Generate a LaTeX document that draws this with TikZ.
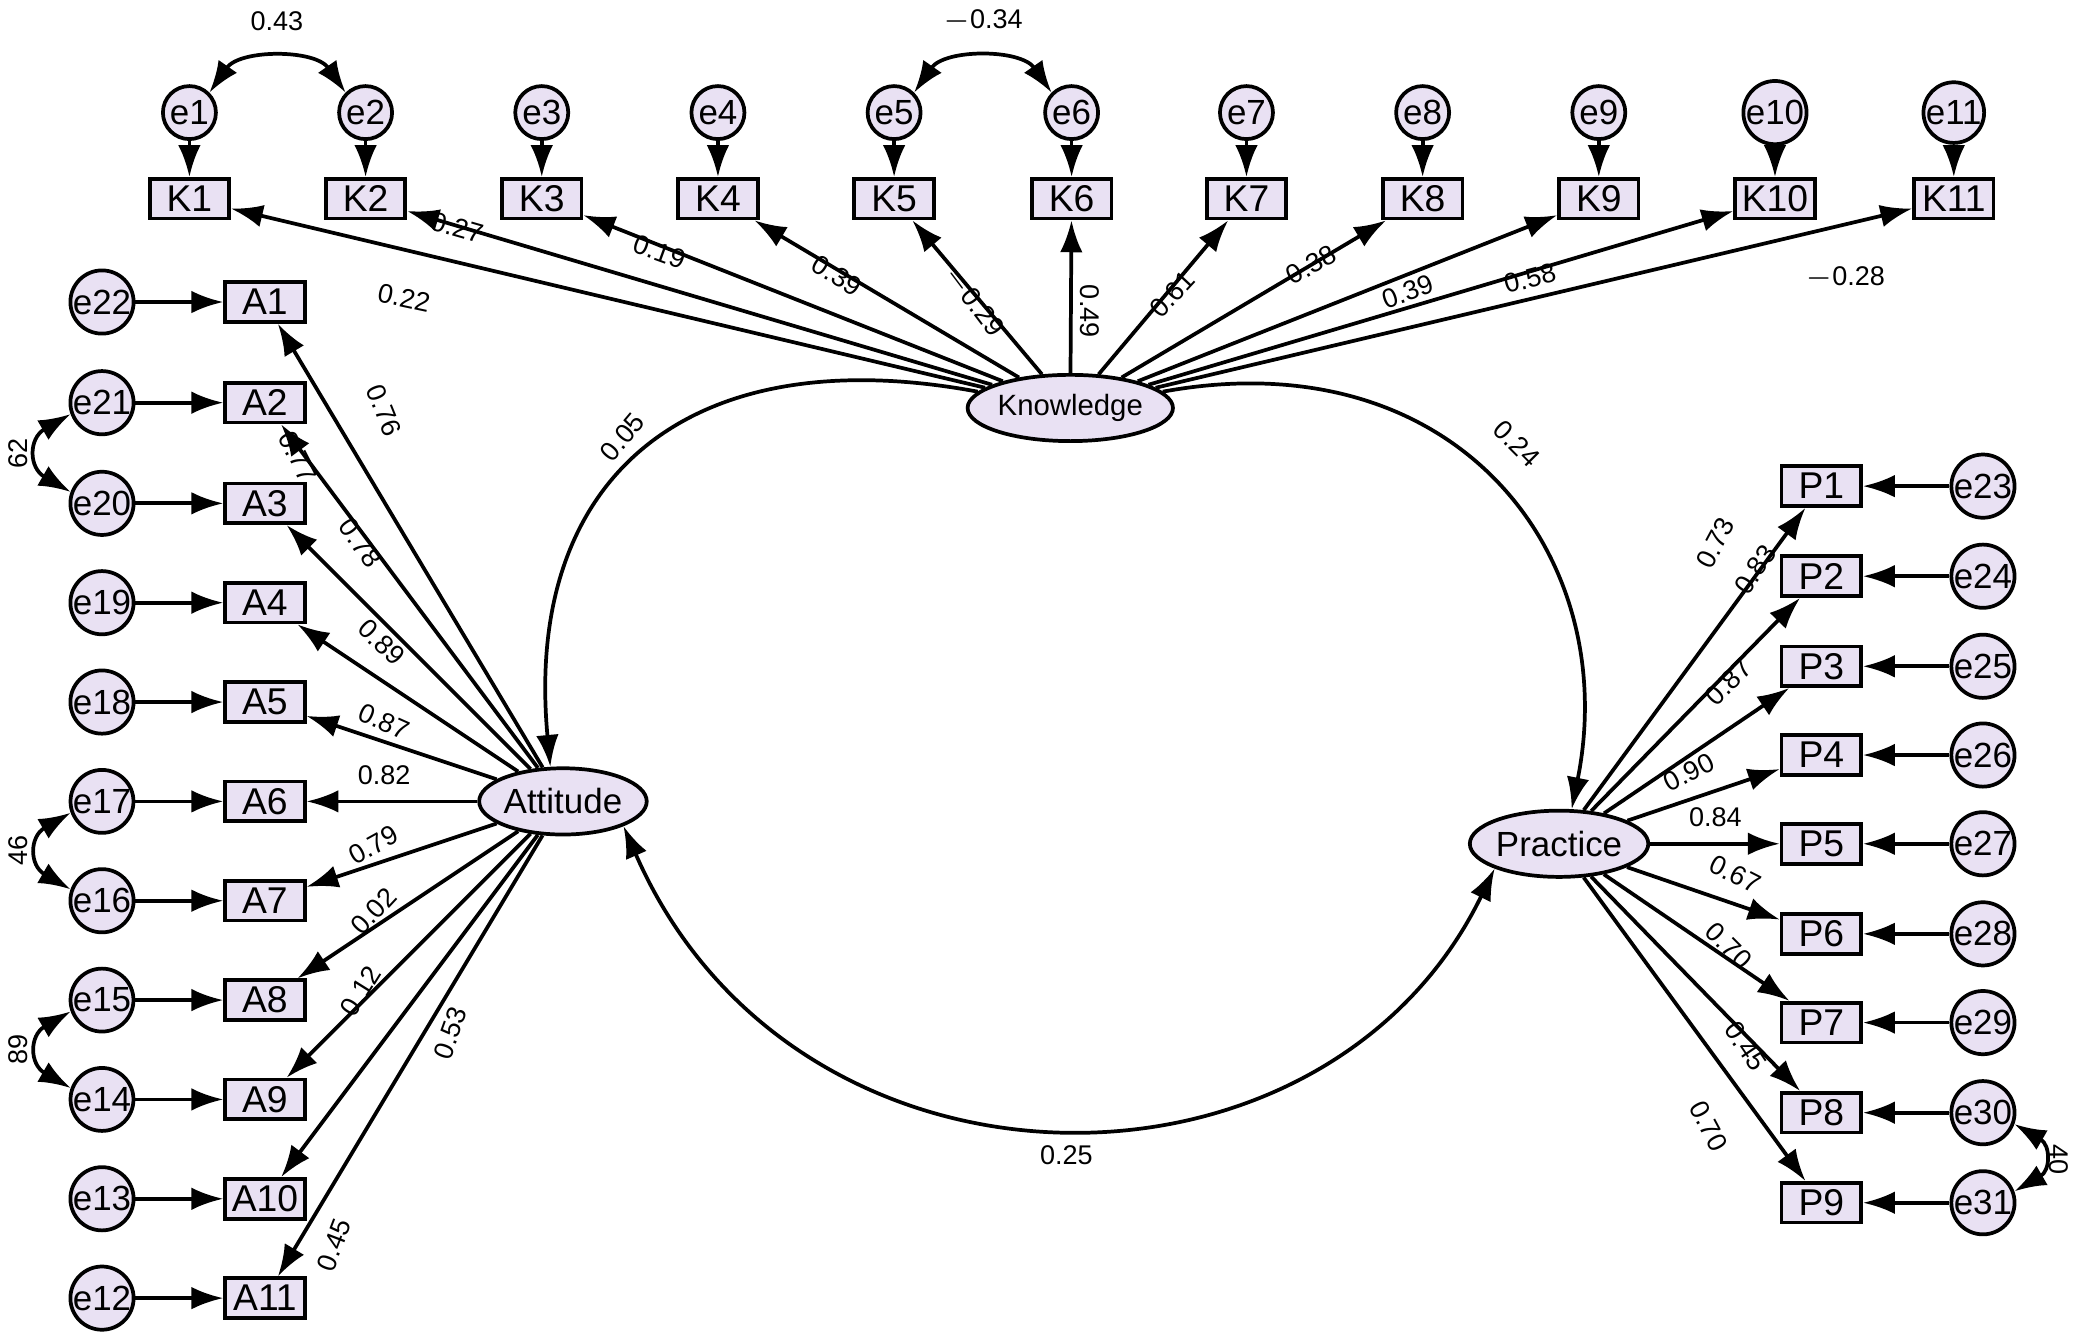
\documentclass[tikz,border=0pt]{standalone}
\usepackage{fontspec}
\setmainfont{Liberation Sans}
\usetikzlibrary{arrows.meta,shapes.geometric}
\definecolor{fillc}{HTML}{E9E1F3}
\begin{document}
\begin{tikzpicture}[x=0.01cm,y=-0.01cm,
  ob/.style={draw,thick,fill=fillc,minimum width=0.6cm,minimum height=0.3cm,inner sep=1pt,font=\fontsize{8}{9}\selectfont},
  er/.style={draw,thick,circle,fill=fillc,minimum size=0.4cm,inner sep=0pt,font=\fontsize{7.5}{9}\selectfont},
  lat/.style={draw,thick,ellipse,fill=fillc,minimum width=1.2cm,minimum height=0.5cm,inner sep=0pt,font=\fontsize{7.5}{9}\selectfont},
  ar/.style={thick,-{Latex[length=0.24cm,width=0.17cm]}},
  dar/.style={thick,{Latex[length=0.24cm,width=0.17cm]}-{Latex[length=0.24cm,width=0.17cm]}},
  lb/.style={font=\fontsize{5.8}{7}\selectfont,inner sep=1pt}]
\useasboundingbox (0,0) rectangle (1568,1012);
\node[lat,minimum width=1.15cm] (Kn) at (808,308) {\fontsize{6.3}{7}\selectfont Knowledge};
\node[lat] (At) at (425,605) {Attitude};
\node[lat] (Pr) at (1177,637) {Practice};
% K
\foreach \i/\x in {1/143,2/276,3/409,4/542,5/675,6/809,7/941,8/1074,9/1207,10/1340,11/1475}{
  \node[ob] (K\i) at (\x,150) {K\i};
  \node[er] (e\i) at (\x,85) {e\i};
  \draw[ar] (e\i) -- (K\i);
  \draw[ar] (Kn) -- (K\i);
}
\foreach \v/\x/\y/\r [count=\n] in {0.22/305/225/-12,0.27/345/172/-16,0.19/498/190/-20,0.39/632/208/-32,{$-$0.29}/735/228/-53,0.49/823/235/-90,0.61/885/222/47,0.38/990/200/29,0.39/1063/220/20,0.58/1155/210/15,{$-$0.28}/1393/210/0}{
  \node[lb,rotate=\r] (kl\n) at (\x,\y) {\v};
}
% A
\foreach \i/\y/\e in {1/228/22,2/304/21,3/380/20,4/455/19,5/530/18,6/605/17,7/680/16,8/755/15,9/830/14,10/905/13,11/980/12}{
  \node[ob] (A\i) at (200,\y) {A\i};
  \node[er] (e\e) at (77,\y) {e\e};
  \draw[ar] (e\e) -- (A\i);
  \draw[ar] (At) -- (A\i);
}
\foreach \v/\x/\y/\r [count=\n] in {0.76/290/310/-68,0.77/225/345/-63,0.78/272/410/-55,0.89/288/485/-44,0.87/290/545/-24,0.82/290/585/0,0.79/282/638/29,0.02/282/688/47,0.12/272/748/58,0.53/340/780/70,0.45/252/940/69}{
  \node[lb,rotate=\r] (al\n) at (\x,\y) {\v};
}
% P
\foreach \i/\y/\e in {1/367/23,2/435/24,3/503/25,4/570/26,5/637/27,6/705/28,7/772/29,8/840/30,9/908/31}{
  \node[ob] (P\i) at (1375,\y) {P\i};
  \node[er] (e\e) at (1497,\y) {e\e};
  \draw[ar] (e\e) -- (P\i);
  \draw[ar] (Pr) -- (P\i);
}
\foreach \v/\x/\y/\r [count=\n] in {0.73/1295/410/62,0.83/1325/430/56,0.87/1305/515/45,0.90/1275/583/27,0.84/1295/617/0,0.67/1310/660/-27,0.70/1305/714/-45,0.45/1318/790/-56,0.70/1290/850/-62}{
  \node[lb,rotate=\r] (pl\n) at (\x,\y) {\v};
}
% covariances
\draw[dar] (e1.north east) to[out=55,in=125] (e2.north west);
\node[lb] (c1) at (209,16) {0.43};
\draw[dar] (e5.north east) to[out=55,in=125] (e6.north west);
\node[lb] (c2) at (742,16) {$-$0.34};
\draw[dar] (e21.200) to[out=210,in=150,looseness=1.6] (e20.160);
\node[lb,rotate=90] (c3) at (14,342) {62};
\draw[dar] (e17.200) to[out=210,in=150,looseness=1.6] (e16.160);
\node[lb,rotate=90] (c4) at (14,642) {46};
\draw[dar] (e15.200) to[out=210,in=150,looseness=1.6] (e14.160);
\node[lb,rotate=90] (c5) at (14,792) {89};
\draw[dar] (e30.-20) to[out=-30,in=30,looseness=1.6] (e31.20);
\node[lb,rotate=-90] (c6) at (1554,875) {40};
\draw[ar] (Kn.170) .. controls (520,255) and (395,360) .. (At.110);
\node[lb,rotate=50] (l05) at (470,330) {0.05};
\draw[ar] (Kn.10) .. controls (1100,255) and (1225,420) .. (Pr.70);
\node[lb,rotate=-45] (l24) at (1145,335) {0.24};
\draw[dar] (At.south east) .. controls (600,920) and (1000,920) .. (Pr.south west);
\node[lb] (l25) at (805,872) {0.25};
\end{tikzpicture}
\end{document}
